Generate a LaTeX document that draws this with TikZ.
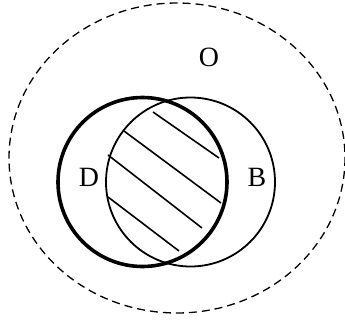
\documentclass[tikz,border=0pt]{standalone}
\usepackage{fontspec}
\setmainfont{Liberation Serif}
\begin{document}
\begin{tikzpicture}[x=1bp,y=-1bp,lbl/.style={font=\fontsize{28}{30}\selectfont,inner sep=0pt}]
% Ensembles O, D et B
\useasboundingbox (0,0) rectangle (345,322);
\draw[dashed,dash pattern=on 8bp off 5bp,line width=1.3bp] (177,158) ellipse [x radius=168,y radius=155];
\draw[line width=3.6bp] (142.5,182) circle [radius=84.5];
\draw[line width=1.8bp] (190.5,182) circle [radius=84.5];
\draw[line width=1.6bp] (153,112) -- (219,158);
\draw[line width=1.6bp] (124,131) -- (221,203);
\draw[line width=1.6bp] (108,155) -- (202,228);
\draw[line width=1.6bp] (108,197) -- (179,251);
\node[lbl] (o) at (209,57) {O};
\node[lbl] (d) at (89,177) {D};
\node[lbl] (b) at (257,177) {B};
\end{tikzpicture}
\end{document}
